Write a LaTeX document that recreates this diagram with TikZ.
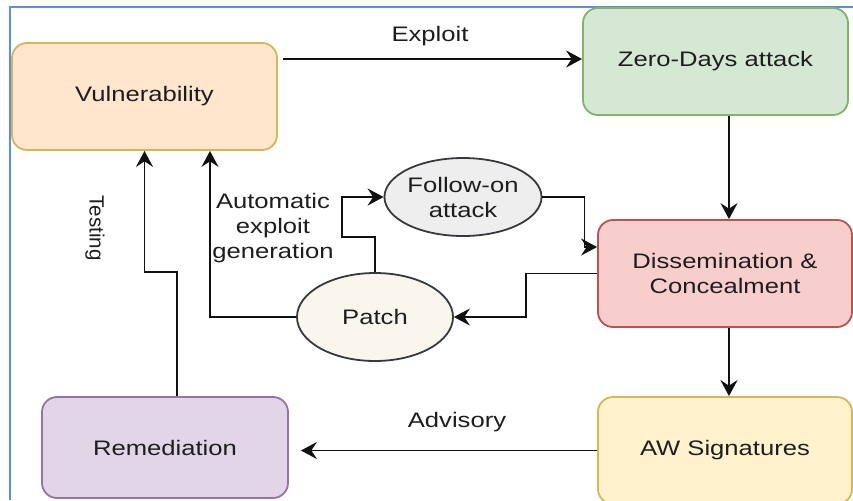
\documentclass[tikz,border=0pt]{standalone}
\usepackage{fontspec}
\setmainfont[FakeStretch=1.22]{Liberation Sans}
\newfontfamily\testfont{Liberation Sans}
\usetikzlibrary{arrows.meta,calc,shapes.geometric}

\definecolor{txt}{HTML}{1E1E1E}
\definecolor{wire}{HTML}{111111}
\definecolor{frameblue}{HTML}{5B8FD9}
\definecolor{vulfill}{HTML}{FFE6CC}
\definecolor{vuldraw}{HTML}{D6B656}
\definecolor{zerofill}{HTML}{D5E8D4}
\definecolor{zerodraw}{HTML}{82B366}
\definecolor{dissfill}{HTML}{F8CECC}
\definecolor{dissdraw}{HTML}{B85450}
\definecolor{awfill}{HTML}{FFF2CC}
\definecolor{awdraw}{HTML}{D6B656}
\definecolor{remfill}{HTML}{E1D5E7}
\definecolor{remdraw}{HTML}{9673A6}
\definecolor{patchfill}{HTML}{F9F7ED}
\definecolor{followfill}{HTML}{EEEEEE}
\definecolor{blobdraw}{HTML}{36393D}

\begin{document}
\begin{tikzpicture}[x=0.5pt,y=-0.5pt,
  lbl/.style={text=txt,font=\fontsize{10.5pt}{12.5pt}\selectfont,inner sep=0pt,align=center},
  box/.style={lbl,draw,rounded corners=7.5pt,line width=0.9pt,minimum height=53.5pt},
  blob/.style={lbl,ellipse,draw=blobdraw,line width=0.9pt,minimum width=78pt},
  flow/.style={-{Stealth[length=8pt,width=8.5pt,inset=2.8pt]},line width=0.9pt,draw=wire}]
  \useasboundingbox[fill=white] (0,0) rectangle (853,500);
  \draw[frameblue,line width=1pt] (10,500) -- (10,7) -- (853,7);

  % boxes
  \node[box,fill=vulfill,draw=vuldraw,minimum width=132.5pt] (vul) at (144.5,96.5) {Vulnerability};
  \node[box,fill=zerofill,draw=zerodraw,minimum width=132.5pt] (zero) at (715.5,61.5) {Zero-Days attack};
  \node[box,fill=dissfill,draw=dissdraw,minimum width=127pt] (diss) at (725,273.5) {Dissemination \&\\Concealment};
  \node[box,fill=awfill,draw=awdraw,minimum width=127pt] (aw) at (725,450.5) {AW Signatures};
  \node[box,fill=remfill,draw=remdraw,minimum width=123pt,minimum height=50.5pt] (rem) at (165,447.5) {Remediation};
  \node[blob,fill=patchfill,minimum height=44pt] (patch) at (375,317) {Patch};
  \node[blob,fill=followfill,minimum height=39pt] (follow) at (463,197) {Follow-on\\attack};

  % labels
  \node[lbl,font=\testfont\fontsize{10.3pt}{12pt}\selectfont,rotate=-90] (testing) at (95,228) {Testing};
  \node[lbl] (autogen) at (273,228) {Automatic\\exploit\\generation};

  % connectors
  \draw[flow,shorten <=2.5pt] ([yshift=18.75pt]vul.east) --
    node[lbl,above=6pt] (exploit) {Exploit} ([yshift=18.75pt]vul.east -| zero.west);
  \draw[flow] ([xshift=2pt]zero.south -| diss.north) -- ([xshift=2pt]diss.north);
  \draw[flow] ([xshift=2pt]diss.south) -- ([xshift=2pt]aw.north);
  \draw[flow,shorten >=6pt] (aw.west) --
    node[lbl,above=9pt,xshift=7pt] (advisory) {Advisory} (aw.west -| rem.east);
  \draw[flow] ([xshift=6pt]rem.north) -- ++(0,-124) -| (vul.south);
  \draw[flow] (patch.west) -| ($(vul.south)+(65.5,0)$);
  \draw[flow] (patch.north) -- ++(0,-35) -- ++(-33,0) |- (follow.west);
  \draw[flow] (follow.east) -- ++(42,0) |- ([yshift=13.25pt]diss.west);
  \draw[flow] (diss.west) -- ++(-71,0) |- (patch.east);
\end{tikzpicture}
\end{document}
